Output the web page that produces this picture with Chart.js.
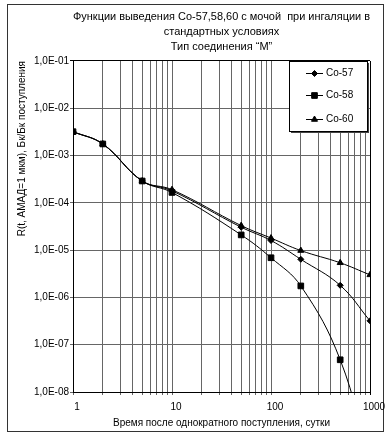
<!DOCTYPE html>
<html>
<head>
<meta charset="utf-8">
<script src="https://cdn.jsdelivr.net/npm/chart.js@4.4.0/dist/chart.umd.min.js"></script>
<style>
  body { margin: 0; background: #fff; }
  canvas { display: block; }
</style>
</head>
<body>
<canvas id="mycanvas" width="392" height="439"></canvas>
<script>
// data
var days = [1, 2, 5, 10, 50, 100, 200, 500, 1000];
var co57 = [3.2e-3, 1.76e-3, 2.9e-4, 1.8e-4, 3.05e-5, 1.6e-5, 6.4e-6, 1.8e-6, 3.2e-7];
var co58 = [3.2e-3, 1.76e-3, 2.9e-4, 1.66e-4, 2.1e-5, 6.9e-6, 1.75e-6, 4.8e-8, 3e-10];
var co60 = [3.2e-3, 1.76e-3, 2.9e-4, 1.9e-4, 3.3e-5, 1.8e-5, 9.8e-6, 5.4e-6, 3.0e-6];

var xTicks = [1,2,3,4,5,6,7,8,9,10,20,30,40,50,60,70,80,90,100,200,300,400,500,600,700,800,900,1000];
var yTicks = [1e-8, 1e-7, 1e-6, 1e-5, 1e-4, 1e-3, 1e-2, 1e-1];
var xLabels = [1, 10, 100, 1000];

var titleLines = ['Функции выведения Co-57,58,60 с мочой  при ингаляции в', 'стандартных условиях', 'Тип соединения “М”'];
var xTitle = 'Время после однократного поступления, сутки';
var yTitle = 'R(t, АМАД=1 мкм), Бк/Бк поступления';

function pairs(vals) {
	var out = [];
	for (var i in days) {
		out.push({x: days[i], y: vals[i]});
	}
	return out;
}

function expLabel(v) {
	var e = Math.round(Math.log10(v));
	var s = Math.abs(e) < 10 ? '0' + Math.abs(e) : '' + Math.abs(e);
	return '1,0E' + (e < 0 ? '-' : '+') + s;
}

var FONT = "'Liberation Sans', Arial, sans-serif";

// frame round the whole picture and the legend box
var decor = {
	id: 'decor',
	beforeDraw: function(chart) {
		var c = chart.ctx;
		c.save();
		c.fillStyle = '#fff';
		c.fillRect(0, 0, chart.width, chart.height);
		c.strokeStyle = '#333';
		c.lineWidth = 1;
		c.strokeRect(7.5, 4.5, 376, 427);
		c.restore();
	},
	afterDraw: function(chart) {
		var c = chart.ctx;
		var a = chart.chartArea;
		var bx = a.right - 81, by = a.top, bw = 78, bh = 70;
		c.save();
		c.fillStyle = '#444';
		c.fillRect(bx + 2, by + 2, bw, bh);
		c.fillStyle = '#fff';
		c.fillRect(bx, by, bw, bh);
		c.strokeStyle = '#000';
		c.lineWidth = 1;
		c.strokeRect(bx + 0.5, by + 0.5, bw, bh);
		var rows = [12, 34, 58];
		c.font = '10px ' + FONT;
		c.textBaseline = 'middle';
		c.textAlign = 'left';
		chart.data.datasets.forEach(function(ds, i) {
			var y = by + rows[i] + 0.5;
			c.strokeStyle = '#000';
			c.beginPath();
			c.moveTo(bx + 17, y);
			c.lineTo(bx + 34, y);
			c.stroke();
			c.fillStyle = '#000';
			Chart.helpers.drawPoint(c, {pointStyle: ds.pointStyle, radius: ds.pointRadius, borderWidth: 1}, bx + 25.5, y);
			c.fillStyle = '#000';
			c.fillText(ds.label, bx + 37, y);
		});
		c.restore();
	}
};

var gridCol = '#666';

var chartdata = {
	datasets: [
		{
			label: 'Co-57',
			data: pairs(co57),
			borderColor: '#000',
			backgroundColor: '#000',
			borderWidth: 1,
			pointStyle: 'rectRot',
			pointRadius: 3,
			tension: 0.4,
			order: 1
		},
		{
			label: 'Co-58',
			data: pairs(co58),
			borderColor: '#000',
			backgroundColor: '#000',
			borderWidth: 1,
			pointStyle: 'rect',
			pointRadius: 4,
			tension: 0.4,
			order: 0
		},
		{
			label: 'Co-60',
			data: pairs(co60),
			borderColor: '#000',
			backgroundColor: '#000',
			borderWidth: 1,
			pointStyle: 'triangle',
			pointRadius: 3.5,
			tension: 0.4,
			order: 2
		}
	]
};

var ctx = document.getElementById('mycanvas');

var LineGraph = new Chart(ctx, {
	type: 'line',
	data: chartdata,
	plugins: [decor],
	options: {
		responsive: false,
		animation: false,
		events: [],
		layout: { padding: { top: 4, left: 0, right: 22, bottom: 0 } },
		plugins: {
			legend: { display: false },
			tooltip: { enabled: false },
			title: {
				display: true,
				fullSize: false,
				text: titleLines,
				color: '#000',
				font: { family: FONT, size: 11, weight: 'normal', lineHeight: 15 / 11 },
				padding: { top: 5.5, bottom: 6.5 }
			}
		},
		scales: {
			x: {
				type: 'logarithmic',
				min: 1,
				max: 1000,
				afterBuildTicks: function(s) {
					s.ticks = xTicks.map(function(v) { return {value: v}; });
				},
				afterFit: function(s) { s.height = 47; },
				ticks: {
					autoSkip: false,
					maxRotation: 0,
					padding: 6,
					labelOffset: 4,
					color: '#000',
					font: { family: FONT, size: 10 },
					callback: function(v) {
						return xLabels.indexOf(v) >= 0 ? String(v) : '';
					}
				},
				grid: {
					color: function(c) { return c.tick && c.tick.value === 1000 ? '#000' : gridCol; },
					lineWidth: 1,
					tickLength: 3
				},
				border: { color: '#000' },
				title: {
					display: true,
					text: xTitle,
					color: '#000',
					font: { family: FONT, size: 10 },
					padding: { top: 0, bottom: 10 }
				}
			},
			y: {
				type: 'logarithmic',
				min: 1e-8,
				max: 1e-1,
				afterBuildTicks: function(s) {
					s.ticks = yTicks.map(function(v) { return {value: v}; });
				},
				afterFit: function(s) { s.width = 73; },
				ticks: {
					autoSkip: false,
					padding: 1,
					color: '#000',
					font: { family: FONT, size: 10 },
					callback: function(v) { return expLabel(v); }
				},
				grid: {
					color: function(c) { return c.tick && c.tick.value === 1e-1 ? '#000' : gridCol; },
					lineWidth: 1,
					tickLength: 3
				},
				border: { color: '#000' },
				title: {
					display: true,
					text: yTitle,
					align: 'end',
					color: '#000',
					font: { family: FONT, size: 10 },
					padding: { top: 16, bottom: 0 }
				}
			}
		}
	}
});
</script>
</body>
</html>
